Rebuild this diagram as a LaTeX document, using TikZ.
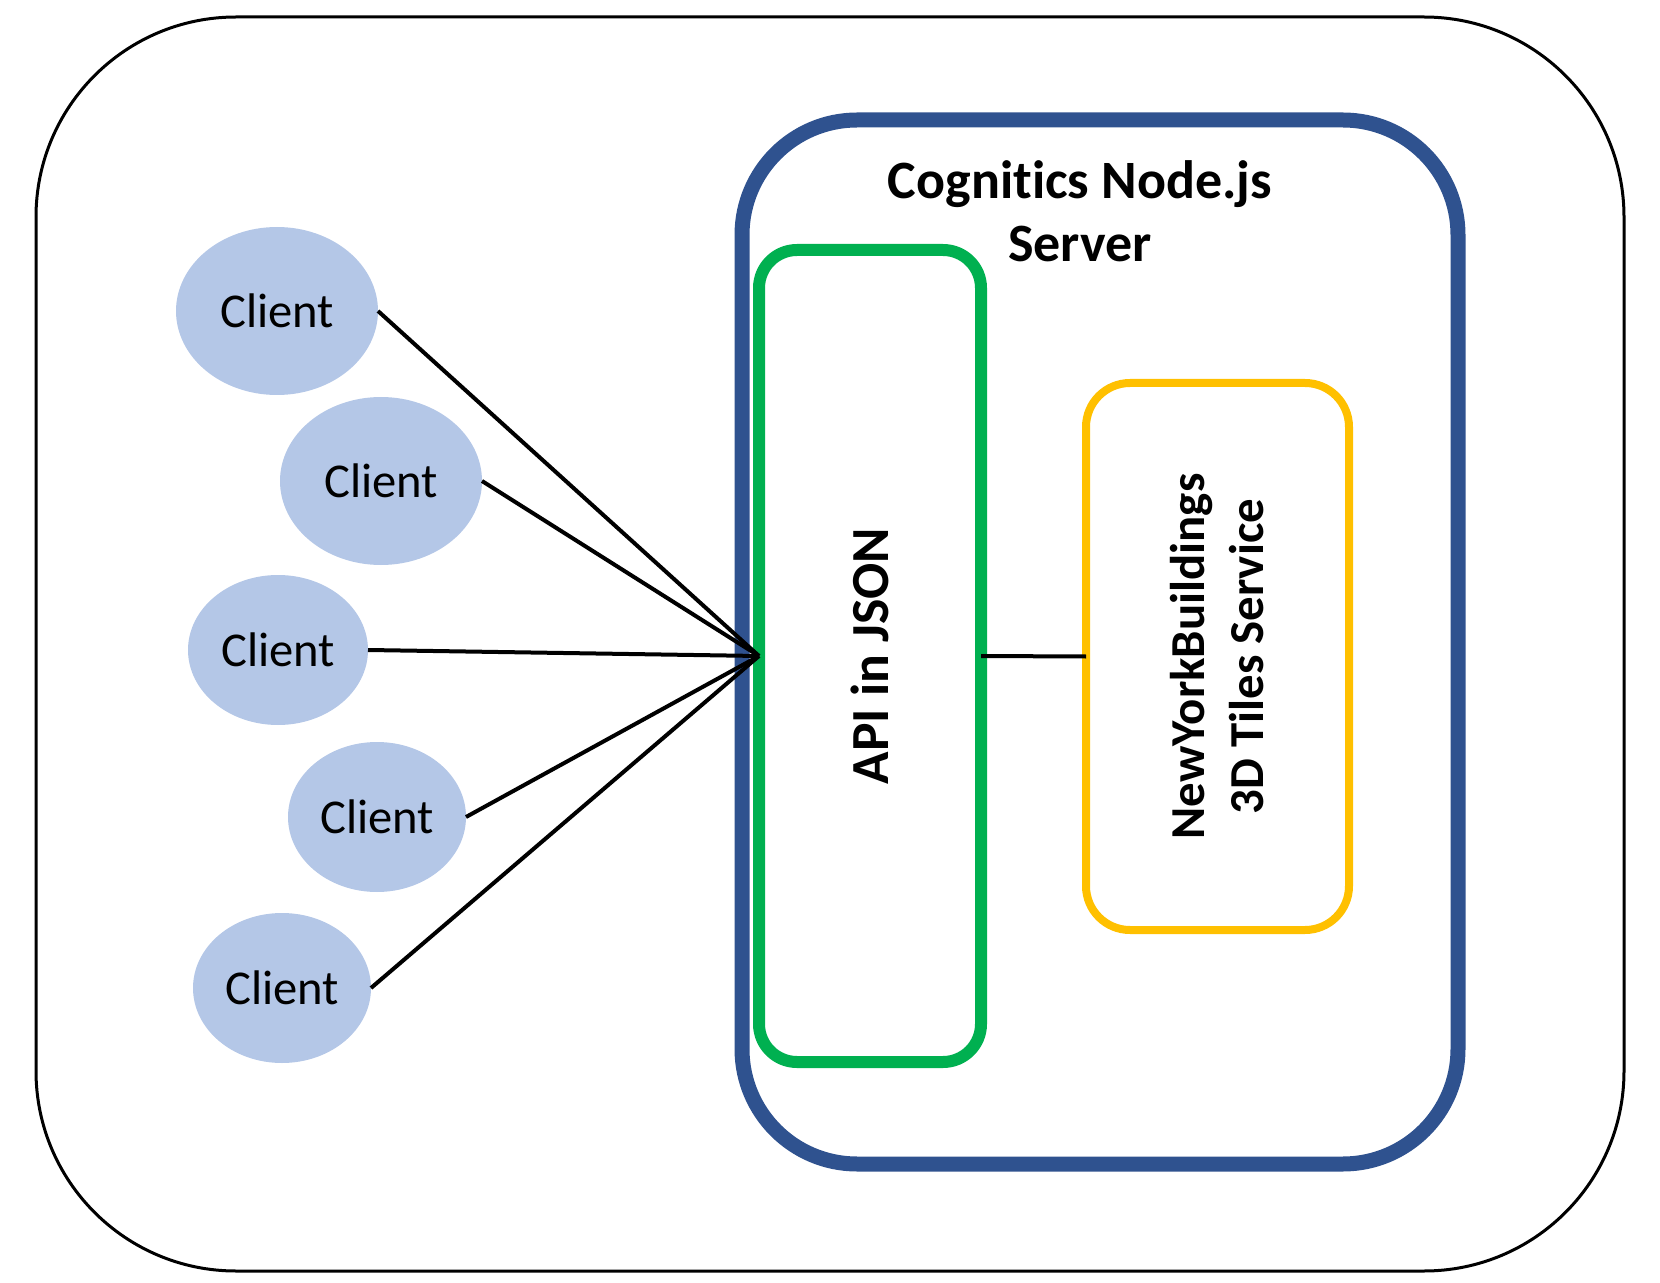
\documentclass[tikz,border=0pt]{standalone}
\usepackage{fontspec}
\setmainfont{Carlito}[Ligatures=NoCommon]
\usetikzlibrary{shapes.geometric}
\definecolor{srvblue}{HTML}{2F528F}
\definecolor{apigreen}{HTML}{00B050}
\definecolor{svcyellow}{HTML}{FFC000}
\definecolor{clientfill}{HTML}{B4C7E7}
\begin{document}
\begin{tikzpicture}[x=0.5pt,y=-0.5pt,
  box/.style={rectangle, inner sep=0pt, outer sep=0pt},
  client/.style={ellipse, fill=clientfill, inner sep=0pt, outer sep=0pt,
    font=\fontsize{24.3}{28}\selectfont},
  link/.style={draw=black, line width=2pt},
  boldtext/.style={inner sep=0pt, align=center}]
\useasboundingbox (0,0) rectangle (1660,1283);
% outer frame
\node[box, draw=black, line width=1.5pt, rounded corners=100pt,
  minimum width=794pt, minimum height=627pt] (frame) at (830,644) {};
% server
\node[box, draw=srvblue, line width=7.5pt, rounded corners=57.5pt,
  minimum width=358pt, minimum height=522pt] (server) at (1100,642) {};
\node[boldtext, font=\fontsize{27}{31.5}\selectfont\bfseries, anchor=north]
  (title) at (1080,160) {Cognitics Node.js\\Server};
% API box
\node[box, draw=apigreen, line width=6pt, rounded corners=19pt,
  minimum width=111pt, minimum height=406pt] (api) at (870,656) {};
\node[boldtext, rotate=90, font=\fontsize{26.8}{31}\selectfont\bfseries]
  (apitext) at (api.center) {API in JSON};
% service box
\node[box, draw=svcyellow, line width=4pt, rounded corners=22pt,
  minimum width=131.5pt, minimum height=273.5pt] (svc) at (1217.5,656.5) {};
\node[boldtext, rotate=90, font=\fontsize{24.4}{29.5}\selectfont\bfseries]
  (svctext) at (svc.center) {NewYorkBuildings\\3D Tiles Service};
% clients
\node[client, minimum width=101pt, minimum height=84pt] (c1) at (277,311) {Client};
\node[client, minimum width=101pt, minimum height=84pt] (c2) at (381,481) {Client};
\node[client, minimum width=90pt, minimum height=75pt] (c3) at (278,650) {Client};
\node[client, minimum width=89pt, minimum height=75pt] (c4) at (377,817) {Client};
\node[client, minimum width=89pt, minimum height=75pt] (c5) at (282,988) {Client};
% connectors
\foreach \c in {c1,c2,c3,c4,c5}
  \draw[link] (\c.east) -- (api.west);
\draw[link] (api.east) -- (svc.west);
\end{tikzpicture}
\end{document}
